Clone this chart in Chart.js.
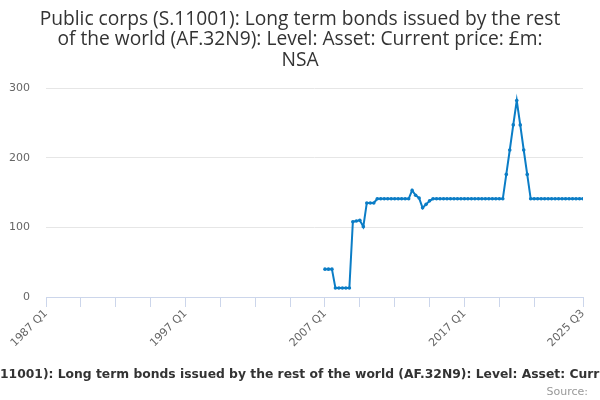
<!DOCTYPE html>
<html>
<head>
<meta charset="utf-8">
<script src="https://cdn.jsdelivr.net/npm/chart.js@4.4.1/dist/chart.umd.min.js"></script>
<style>
html,body{margin:0;padding:0;background:#fff;}
#wrap{width:600px;height:400px;position:relative;}
</style>
</head>
<body>
<div id="wrap"><canvas id="c" width="600" height="400"></canvas></div>
<script>
const titleLines = [
  "Public corps (S.11001): Long term bonds issued by the rest",
  "of the world (AF.32N9): Level: Asset: Current price: £m:",
  "NSA"
];
const seriesName = "Public corps (S.11001): Long term bonds issued by the rest of the world (AF.32N9): Level: Asset: Current price: £m: NSA";
const sourceText = "Source:";

// Quarter categories 1987 Q1 .. 2025 Q3
const firstYear = 1987, lastYear = 2025, lastQuarter = 3;
const quarters = [];
for (let y = firstYear; y <= lastYear; y++) {
  for (let q = 1; q <= 4; q++) {
    if (y === lastYear && q > lastQuarter) break;
    quarters.push(y + " Q" + q);
  }
}
const dataStart = "2007 Q1";
const values = [
  40, 40, 40, 13,            // 2007
  13, 13, 13, 13,            // 2008
  108, 109, 110, 101,        // 2009
  135, 135, 135, 141,        // 2010
  141, 141, 141, 141,        // 2011
  141, 141, 141, 141,        // 2012
  141, 153, 146, 142,        // 2013
  128, 133, 138, 141,        // 2014
  141, 141, 141, 141,        // 2015
  141, 141, 141, 141,        // 2016
  141, 141, 141, 141,        // 2017
  141, 141, 141, 141,        // 2018
  141, 141, 141, 141,        // 2019
  176, 211, 247, 282,        // 2020
  247, 211, 176, 141,        // 2021
  141, 141, 141, 141,        // 2022
  141, 141, 141, 141,        // 2023
  141, 141, 141, 141,        // 2024
  141, 141, 141              // 2025
];
const yTicks = [0, 100, 200, 300];
const xLabelCats = ["1987 Q1", "1997 Q1", "2007 Q1", "2017 Q1", "2025 Q3"];
const xTickStep = 10;

const startIdx = quarters.indexOf(dataStart);
const points = values.map((v, i) => ({x: startIdx + i, y: v}));

const lineColor = "#0b7dc6";

const decor = {
  id: 'decor',
  afterDraw(chart) {
    const ctx = chart.ctx;
    ctx.save();
    ctx.fillStyle = "#333333";
    ctx.font = "19.2px 'Open Sans'";
    ctx.textAlign = "center";
    ctx.textBaseline = "alphabetic";
    const bases = [24.5, 45, 65.5];
    titleLines.forEach((t, i) => ctx.fillText(t, 300, bases[i]));
    // legend text (overflowing the canvas on both sides, as in the original)
    ctx.font = "bold 12px 'DejaVu Sans'";
    const hiddenLeft = "Public corps (S.";
    const visiblePart = "11001): Long term bonds issued by the rest of the world (AF.32N9): Level: Asset: Curr";
    const size = 12 * 600 / ctx.measureText(visiblePart).width;
    ctx.font = "bold " + size.toFixed(2) + "px 'DejaVu Sans'";
    const startX = -ctx.measureText(hiddenLeft).width;
    ctx.textAlign = "left";
    ctx.fillStyle = "#333333";
    ctx.fillText(seriesName, startX, 378);
    ctx.font = "11px 'DejaVu Sans'";
    ctx.fillStyle = "#999999";
    ctx.textAlign = "right";
    ctx.fillText(sourceText, 588, 395);
    ctx.restore();
  }
};

new Chart(document.getElementById('c'), {
  type: 'line',
  data: {
    datasets: [{
      label: seriesName,
      data: points,
      borderColor: lineColor,
      backgroundColor: lineColor,
      borderWidth: 2,
      pointRadius: 1.8,
      pointBorderWidth: 0,
      pointBackgroundColor: lineColor,
      tension: 0
    }]
  },
  options: {
    responsive: false,
    animation: false,
    devicePixelRatio: 1,
    layout: {padding: {top: 88, right: 17, bottom: 0, left: 0}},
    plugins: {legend: {display: false}, title: {display: false}, tooltip: {enabled: false}},
    scales: {
      x: {
        type: 'linear',
        min: 0,
        max: quarters.length - 1,
        afterBuildTicks(scale) {
          const t = [];
          for (let v = 0; v < quarters.length - 1 - 5; v += xTickStep) t.push({value: v});
          t.push({value: quarters.length - 1});
          scale.ticks = t;
        },
        afterFit(scale) { scale.height = 103; },
        border: {display: true, color: '#ccd6eb', width: 1},
        grid: {drawOnChartArea: false, drawTicks: true, tickLength: 10, color: '#ccd6eb', tickColor: '#ccd6eb'},
        ticks: {
          autoSkip: false,
          minRotation: 45,
          maxRotation: 45,
          padding: 0,
          color: '#666666',
          font: {family: "'DejaVu Sans'", size: 11},
          callback(v) {
            const lab = quarters[v];
            return xLabelCats.includes(lab) ? lab : '';
          }
        }
      },
      y: {
        min: 0,
        max: 300,
        afterBuildTicks(scale) { scale.ticks = yTicks.map(v => ({value: v})); },
        afterFit(scale) { scale.width = 46; },
        border: {display: false},
        grid: {color: '#e6e6e6', drawTicks: false},
        ticks: {
          padding: 16,
          color: '#666666',
          font: {family: "'DejaVu Sans'", size: 11}
        }
      }
    }
  },
  plugins: [decor]
});
</script>
</body>
</html>
